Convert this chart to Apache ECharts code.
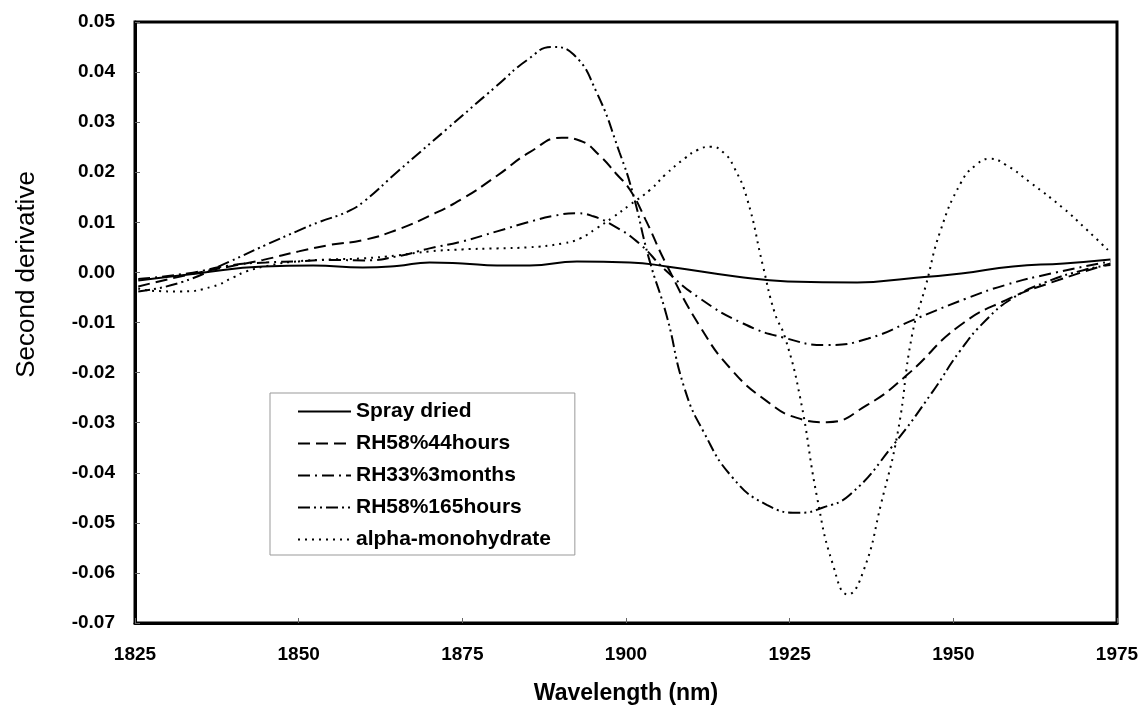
<!DOCTYPE html>
<html>
<head>
<meta charset="utf-8">
<script src="https://cdn.jsdelivr.net/npm/echarts@6/dist/echarts.min.js"></script>
<style>
  html, body { margin: 0; padding: 0; background: #fff; }
  #chart { width: 1143px; height: 711px; }
</style>
</head>
<body>
<div id="chart"></div>
<script>
// values (wavelength nm / second derivative)
const sprayWl = [1825.5, 1834.5, 1844.6, 1852.2, 1859.8, 1865, 1870, 1875, 1880.3, 1885.3, 1892.5, 1900.6, 1906.2, 1916.8, 1924.7, 1935.3, 1943.2, 1951.2, 1959.1, 1966.9, 1974];
const sprayVal = [-0.0016, -0.0002, 0.0012, 0.0014, 0.001, 0.0013, 0.002, 0.0018, 0.0014, 0.0014, 0.0022, 0.002, 0.0012, -0.0008, -0.0018, -0.002, -0.0012, -0.0002, 0.0012, 0.0018, 0.0026];

const rh44Wl = [1825.5, 1833, 1839.5, 1844.6, 1850, 1854.8, 1860, 1865, 1870, 1875, 1880.3, 1885.3, 1890.2, 1893, 1896, 1898.5, 1900.6, 1903, 1906.2, 1911.3, 1916.3, 1921.5, 1926, 1930.7, 1936.8, 1942.9, 1951, 1958.6, 1965, 1974];
const rh44Val = [-0.0028, -0.0005, 0.0012, 0.0025, 0.0042, 0.0055, 0.0065, 0.0085, 0.0113, 0.0147, 0.0193, 0.024, 0.0269, 0.0263, 0.0233, 0.0197, 0.0165, 0.0105, 0.0015, -0.0108, -0.0197, -0.0257, -0.029, -0.0299, -0.0265, -0.0205, -0.0106, -0.0052, -0.002, 0.0018];

const rh33Wl = [1825.5, 1833, 1839.5, 1845, 1850, 1855, 1860, 1865, 1870, 1875, 1880.3, 1885, 1889, 1892.5, 1895, 1898, 1902, 1906, 1911.3, 1917.9, 1924, 1930.7, 1937, 1944.4, 1952, 1958, 1965, 1974];
const rh33Val = [-0.0013, -0.0002, 0.0014, 0.002, 0.0022, 0.0025, 0.0024, 0.0032, 0.0048, 0.0062, 0.0082, 0.01, 0.0113, 0.0118, 0.0112, 0.0094, 0.0058, 0.0005, -0.0052, -0.0102, -0.013, -0.0145, -0.0132, -0.0092, -0.0052, -0.0025, -0.0002, 0.0022];

const rh165Wl = [1825.5, 1832, 1839.5, 1845, 1849.7, 1853, 1857.4, 1860, 1865, 1872.7, 1880.3, 1885, 1888.7, 1892, 1895.5, 1899, 1901, 1903.5, 1906.2, 1908.9, 1911.8, 1916.3, 1921.5, 1926.6, 1930, 1934.2, 1940.8, 1946.9, 1951, 1955, 1959, 1964, 1970, 1974];
const rh165Val = [-0.0038, -0.002, 0.0022, 0.0055, 0.0082, 0.01, 0.0121, 0.0142, 0.02, 0.0287, 0.0373, 0.0425, 0.045, 0.0435, 0.036, 0.024, 0.016, 0.0028, -0.0086, -0.023, -0.0317, -0.041, -0.0464, -0.048, -0.047, -0.0444, -0.0345, -0.0237, -0.0157, -0.0095, -0.0052, -0.002, 0.0005, 0.0015];

const alphaWl = [1825.5, 1828, 1831.9, 1836.9, 1840, 1842, 1846, 1849.7, 1855, 1859.8, 1865, 1870, 1875, 1880.3, 1885, 1890.4, 1893, 1895.5, 1898, 1900.6, 1903.7, 1906, 1909, 1911, 1913, 1915, 1916.5, 1918.5, 1920.9, 1922.7, 1924.3, 1926.6, 1929.2, 1931.6, 1933.9, 1936.3, 1939, 1941.5, 1943.7, 1945.8, 1948, 1951.2, 1953.5, 1955.6, 1958, 1961.7, 1966.9, 1970, 1973.6];
const alphaVal = [-0.0032, -0.0037, -0.0038, -0.0028, -0.001, 0.0002, 0.0015, 0.0022, 0.0026, 0.0028, 0.0034, 0.0042, 0.0046, 0.0048, 0.005, 0.0058, 0.0068, 0.0088, 0.011, 0.0135, 0.0165, 0.0195, 0.0228, 0.0245, 0.0251, 0.0238, 0.021, 0.0147, 0.0014, -0.008, -0.013, -0.025, -0.045, -0.0583, -0.0643, -0.0595, -0.046, -0.032, -0.0125, -0.0026, 0.0082, 0.018, 0.0215, 0.0227, 0.0215, 0.018, 0.0127, 0.009, 0.0045];

const seriesNames = ['Spray dried', 'RH58%44hours', 'RH33%3months', 'RH58%165hours', 'alpha-monohydrate'];
const xTicks = [1825, 1850, 1875, 1900, 1925, 1950, 1975];

const pairs = (xs, ys) => xs.map((x, i) => [x, ys[i]]);

const chart = echarts.init(document.getElementById('chart'), null, { renderer: 'canvas' });

const lineSeries = (name, data, dash) => ({
  name: name,
  type: 'line',
  data: data,
  symbol: 'none',
  smooth: 0.5,
  lineStyle: { color: '#000', width: 2, type: dash },
  itemStyle: { color: '#000' },
  emphasis: { disabled: true },
});

const option = {
  backgroundColor: '#fff',
  animation: false,
  textStyle: { fontFamily: 'Liberation Sans, Arial, sans-serif' },
  grid: {
    left: 135,
    right: 26,
    top: 22,
    bottom: 88,
    show: true,
    borderColor: '#000',
    borderWidth: 3,
  },
  legend: {
    orient: 'vertical',
    left: 270,
    top: 393,
    data: seriesNames,
    itemWidth: 53,
    itemHeight: 14,
    itemGap: 11,
    padding: [8, 24, 5, 27],
    borderColor: '#999',
    borderWidth: 1,
    itemStyle: { color: 'rgba(0,0,0,0)', borderWidth: 0 },
    textStyle: { color: '#000', fontSize: 21, fontWeight: 'bold', lineHeight: 20 },
  },
  xAxis: {
    type: 'value',
    min: xTicks[0],
    max: xTicks[xTicks.length - 1],
    interval: 25,
    name: 'Wavelength (nm)',
    nameLocation: 'middle',
    nameGap: 59,
    nameTextStyle: { color: '#000', fontSize: 23, fontWeight: 'bold' },
    axisLine: { onZero: false, lineStyle: { color: '#000', width: 3 } },
    axisTick: { inside: true, length: 5, lineStyle: { color: '#666', width: 1 } },
    axisLabel: { color: '#000', fontSize: 19, fontWeight: 'bold', margin: 22, formatter: (v) => String(v) },
    splitLine: { show: false },
  },
  yAxis: {
    type: 'value',
    min: -0.07,
    max: 0.05,
    interval: 0.01,
    name: 'Second derivative',
    nameLocation: 'middle',
    nameRotate: 90,
    nameGap: 95,
    nameTextStyle: { color: '#000', fontSize: 26, padding: [0, 0, 0, 96] },
    axisLine: { show: true, onZero: false, lineStyle: { color: '#000', width: 3 } },
    axisTick: { show: true, inside: true, length: 5, lineStyle: { color: '#666', width: 1 } },
    axisLabel: {
      color: '#000', fontSize: 19, fontWeight: 'bold', margin: 20,
      formatter: (v) => v.toFixed(2),
    },
    splitLine: { show: false },
  },
  series: [
    lineSeries(seriesNames[0], pairs(sprayWl, sprayVal), 'solid'),
    lineSeries(seriesNames[1], pairs(rh44Wl, rh44Val), [12, 6]),
    lineSeries(seriesNames[2], pairs(rh33Wl, rh33Val), [12, 5, 2, 5]),
    lineSeries(seriesNames[3], pairs(rh165Wl, rh165Val), [12, 4, 2, 4, 2, 4]),
    lineSeries(seriesNames[4], pairs(alphaWl, alphaVal), [2, 5]),
  ],
};

chart.setOption(option);
</script>
</body>
</html>
